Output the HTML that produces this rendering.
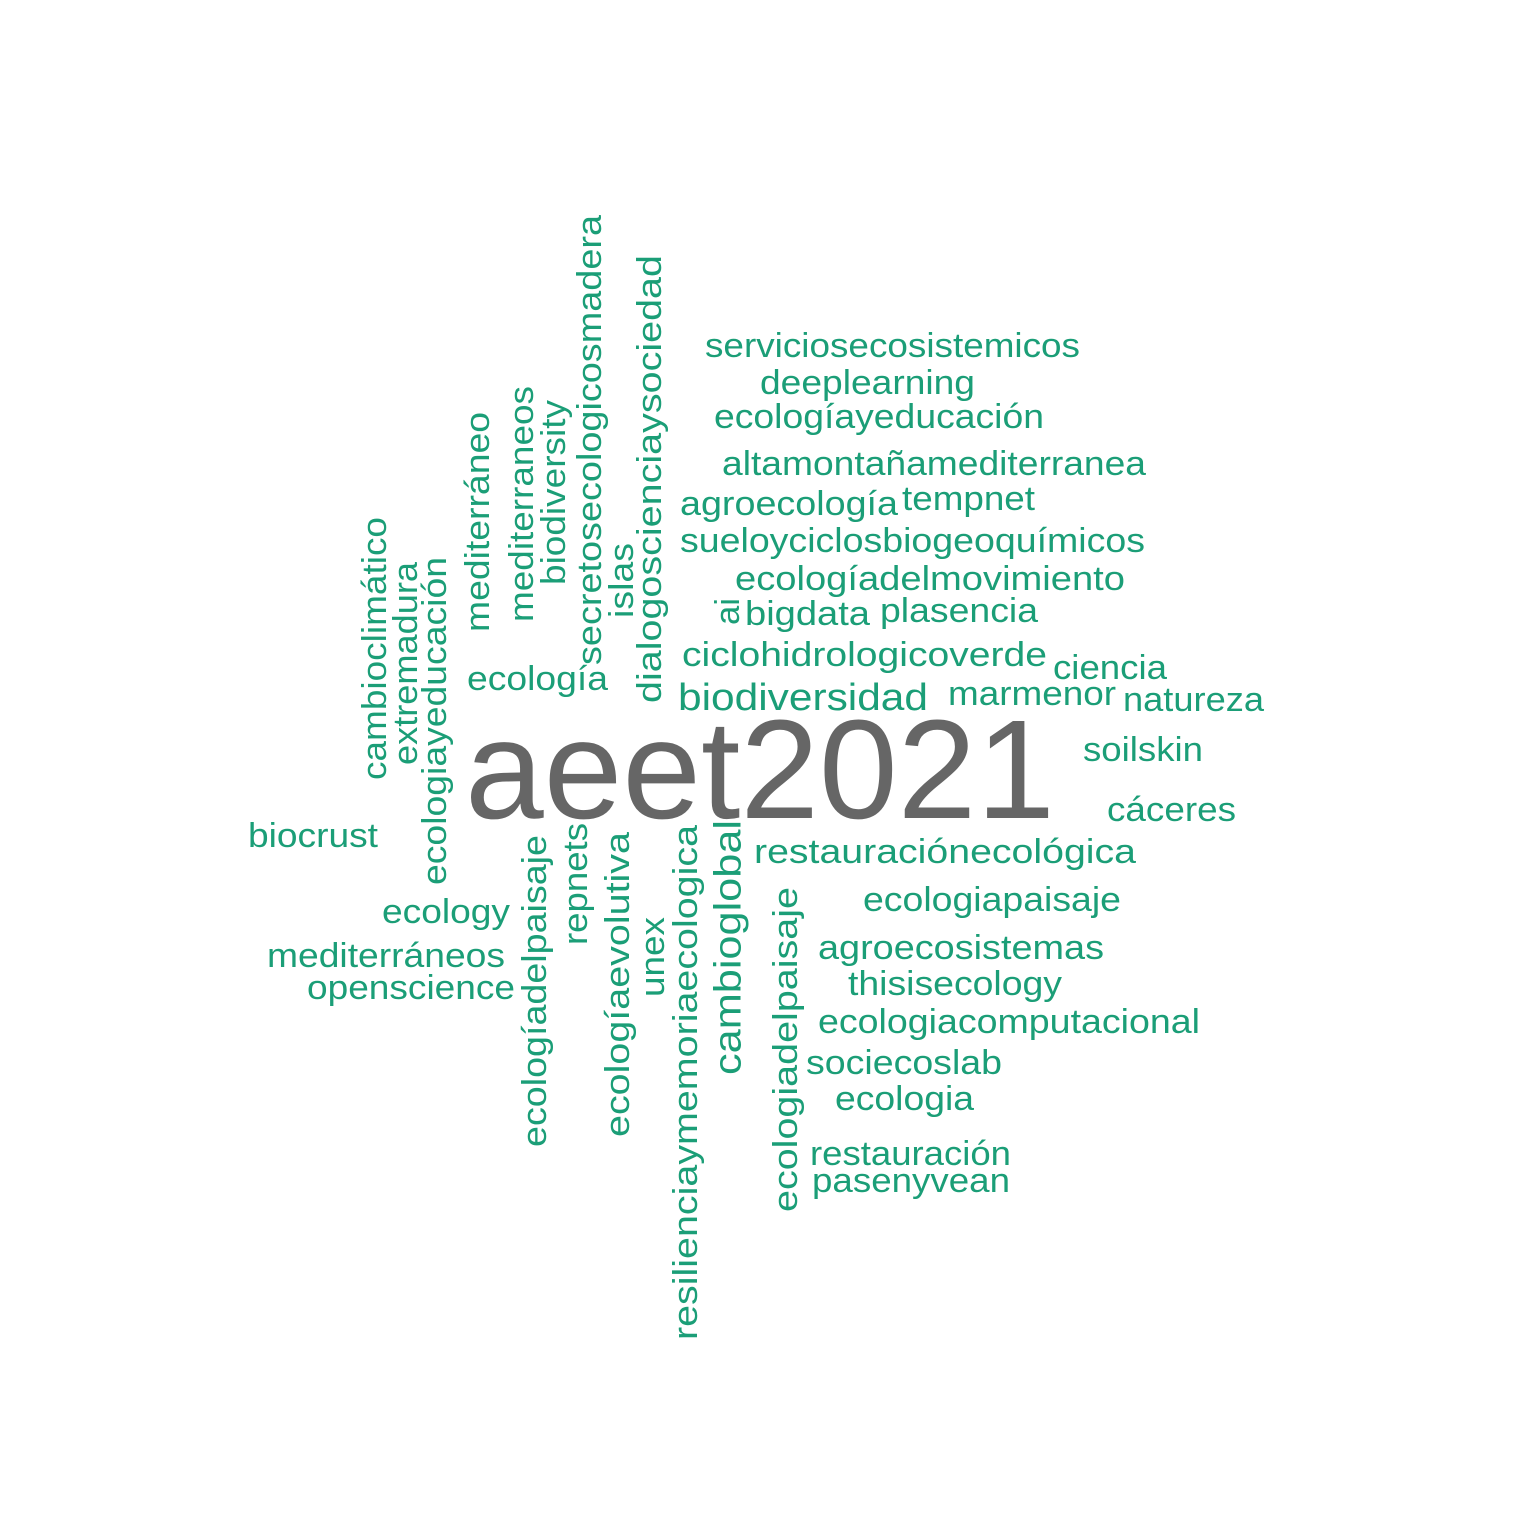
<!DOCTYPE html>
<html><head><meta charset="utf-8"><style>
html,body{margin:0;padding:0;background:#fff;}
svg{display:block;}
text{font-family:"Liberation Sans",Arial,sans-serif;}
</style></head><body>
<svg id="cloud" width="1536" height="1536" viewBox="0 0 1536 1536" xmlns="http://www.w3.org/2000/svg">
<rect width="1536" height="1536" fill="#fff"/>
</svg>
<script>
// words, positions (x,y = left/baseline for horizontal; center-x/bottom for vertical), size, rotation, span length
const words = ["aeet2021","serviciosecosistemicos","deeplearning","ecologíayeducación","altamontañamediterranea","agroecología","tempnet","sueloyciclosbiogeoquímicos","ecologíadelmovimiento","bigdata","plasencia","ciclohidrologicoverde","ciencia","biodiversidad","marmenor","natureza","soilskin","cáceres","restauraciónecológica","ecologiapaisaje","agroecosistemas","thisisecology","ecologiacomputacional","sociecoslab","ecologia","restauración","pasenyvean","ecología","biocrust","ecology","mediterráneos","openscience",
"cambioclimático","extremadura","ecologiayeducación","mediterráneo","mediterraneos","biodiversity","secretosecologicosmadera","islas","dialogoscienciaysociedad","ai","ecologíadelpaisaje","repnets","ecologíaevolutiva","unex","resilienciaymemoriaecologica","cambioglobal","ecologiadelpaisaje"];
const posX = [465,705,760,714,722,680,902,680,735,745,880,682,1053,678,948,1123,1083,1107,754,863,818,848,818,806,835,810,812,467,248,382,267,307,
377,408,437,480,524,556,592,624,652,730,537,578,620,655,688,730,788];
const posY = [818,357,394,428,475,515,510,552,590,625,622,666,679,710,705,711,761,821,863,911,959,995,1033,1074,1110,1165,1192,690,847,923,967,999,
780,765,885,632,622,585,665,618,703,625,1147,945,1137,997,1340,1075,1212];
const sizes = [141,34,34,34,34,34,34,34,34,34,34,34,34,38,34,34,34,34,34,34,34,34,34,34,34,34,34,34,34,34,34,34,
34,34,34,34,34,34,34,34,34,34,34,34,34,34,34,38,34];
const spans = [590,375,215,330,424,218,133,465,390,125,158,365,114,250,168,141,120,129,382,258,286,214,382,196,139,201,198,141,130,128,238,208,
263,203,328,220,236,185,450,75,448,27,312,122,305,80,515,255,325];
const vertical = [0,0,0,0,0,0,0,0,0,0,0,0,0,0,0,0,0,0,0,0,0,0,0,0,0,0,0,0,0,0,0,0,
1,1,1,1,1,1,1,1,1,1,1,1,1,1,1,1,1];
const svg = document.getElementById('cloud');
const NS = 'http://www.w3.org/2000/svg';
for (let i = 0; i < words.length; i++) {
  const t = document.createElementNS(NS, 'text');
  t.textContent = words[i];
  t.setAttribute('font-size', sizes[i]);
  t.setAttribute('fill', i === 0 ? '#666666' : '#1b9e77');
  t.setAttribute('textLength', spans[i]);
  t.setAttribute('lengthAdjust', 'spacingAndGlyphs');
  if (vertical[i]) {
    const bx = posX[i] + sizes[i] * 0.27;
    t.setAttribute('x', 0);
    t.setAttribute('y', 0);
    t.setAttribute('transform', 'translate(' + bx + ',' + posY[i] + ') rotate(-90)');
  } else {
    t.setAttribute('x', posX[i]);
    t.setAttribute('y', posY[i]);
  }
  
  
  svg.appendChild(t);
}
</script>
</body></html>
